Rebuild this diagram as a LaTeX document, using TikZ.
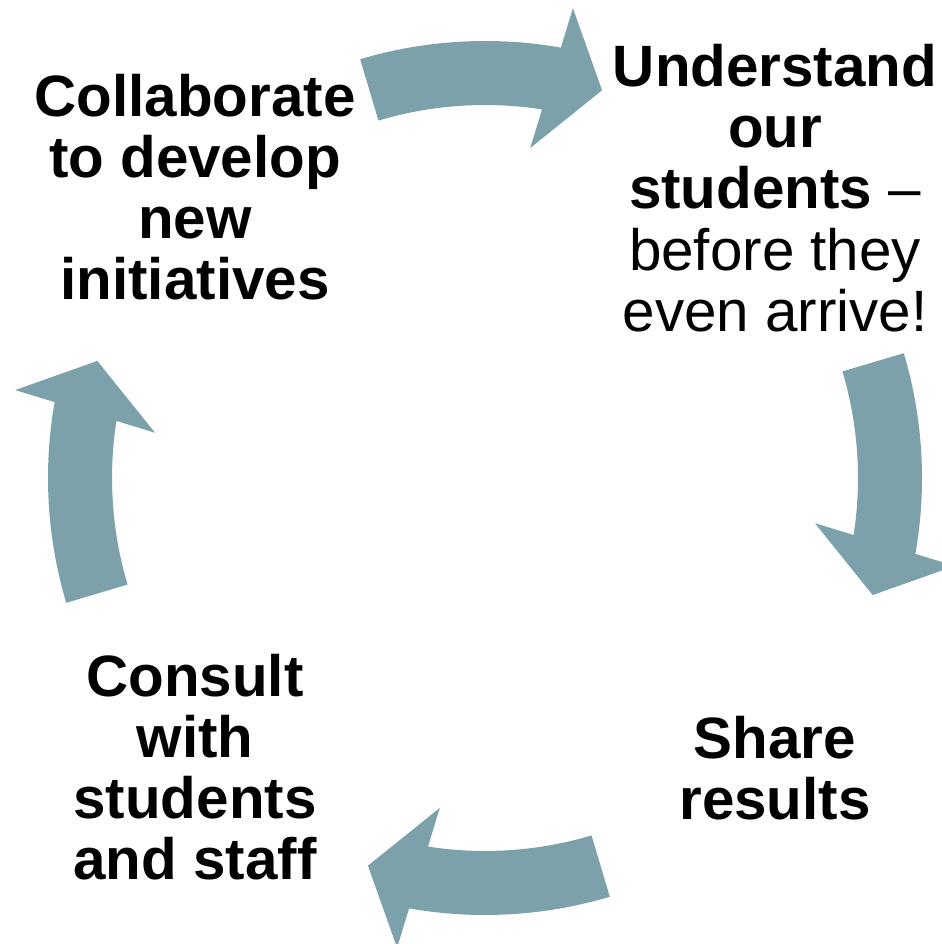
\documentclass[tikz,border=0pt]{standalone}
\usepackage{fontspec}
\setmainfont{Liberation Sans}
\definecolor{cyclearrow}{RGB}{124,161,171}

\begin{document}
\begin{tikzpicture}[every node/.style={align=center, font=\fontsize{16.6}{17.4}\selectfont\bfseries}]

\useasboundingbox (0,0) rectangle (9.41,9.44);

% -------- curved arrows of the cycle -----------
\begin{scope}[shift={(4.85,4.66)}]
\foreach \r in {0,-90,-180,-270}
  \fill[cyclearrow, rotate=\r]
    (106.6:4.37) arc[start angle=106.6, end angle=80.0, radius=4.37]
    -- (79.4:4.78) -- (73.2:4.05) -- (82.2:3.33)
    -- (81.2:3.73) arc[start angle=81.2, end angle=106.6, radius=3.73] -- cycle;
\end{scope}

% -------- steps -----------
\node (collab)     at (1.95, 7.57) {Collaborate\\to develop\\new\\initiatives};
\node (understand) at (7.75, 7.56) {Understand\\our\\students \textmd{--}\\\textmd{before they}\\\textmd{even arrive!}};
\node (share)      at (7.75, 1.76) {Share\\results};
\node (consult)    at (1.95, 1.77) {Consult\\with\\students\\and staff};

\end{tikzpicture}
\end{document}
